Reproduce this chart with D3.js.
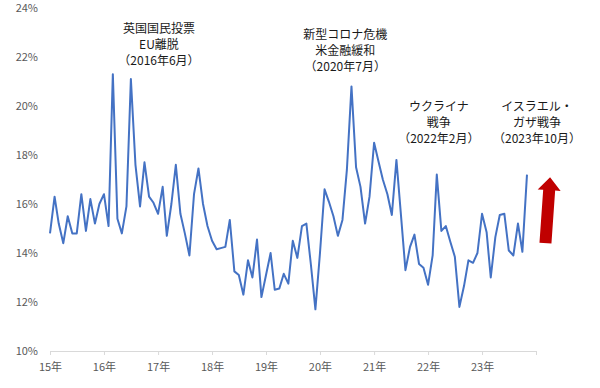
<!DOCTYPE html>
<html>
<head>
<meta charset="utf-8">
<script src="https://cdn.jsdelivr.net/npm/d3@7"></script>
<style>
  body { margin: 0; background: #fff; }
  svg { display: block; }
  text { font-family: "Noto Sans CJK JP", "Noto Sans", sans-serif; }
</style>
</head>
<body>
<svg id="chart" width="600" height="388"></svg>
<script>
// monthly values (%), Jan 2015 .. Nov 2023
const values = [
    14.8, 16.3, 15.2, 14.4, 15.5, 14.8, 14.8, 16.4, 14.9, 16.2, 15.2, 16.0,
    16.4, 15.1, 21.3, 15.4, 14.8, 15.9, 21.1, 17.6, 15.9, 17.7, 16.3, 16.05,
    15.6, 16.7, 14.7, 16.0, 17.6, 15.6, 14.8, 13.9, 16.4, 17.45, 16.0, 15.1,
    14.5, 14.15, 14.2, 14.25, 15.35, 13.25, 13.1, 12.3, 13.7, 13.0, 14.55, 12.2,
    13.1, 14.0, 12.5, 12.55, 13.15, 12.75, 14.5, 13.8, 15.1, 15.2, 13.5, 11.7,
    14.0, 16.6, 16.1, 15.5, 14.7, 15.35, 17.4, 20.8, 17.5, 16.7, 15.2, 16.3,
    18.5, 17.7, 17.0, 16.4, 15.55, 17.8, 15.6, 13.3, 14.25, 14.75, 13.55, 13.4,
    12.7, 13.9, 17.2, 14.9, 15.1, 14.45, 13.85, 11.8, 12.65, 13.7, 13.6, 14.0,
    15.6, 14.85, 13.0, 14.65, 15.55, 15.6, 14.1, 13.9, 15.2, 14.05, 17.2
];
const startYear = 2015;
const endYear = 2024;

// y axis ticks (%)
const yTicks = [10, 12, 14, 16, 18, 20, 22, 24];

// event notes: label lines, month index and value of the first line
const notes = [
    { lines: ["英国国民投票", "EU離脱", "（2016年6月）"], month: 24.2, value: 23.15 },
    { lines: ["新型コロナ危機", "米金融緩和", "（2020年7月）"], month: 65.6, value: 22.9 },
    { lines: ["ウクライナ", "戦争", "（2022年2月）"], month: 86.4, value: 19.95 },
    { lines: ["イスラエル・", "ガザ戦争", "（2023年10月）"], month: 108.2, value: 19.95 }
];

// red arrow: month index and value range
const arrow = { month: 110.1, from: 14.4, to: 17.1 };

const lineColor = "#4472C4";
const arrowColor = "#C00000";
const labelColor = "#595959";

const svg = d3.select("#chart");

const data = values.map(function (v, i) {
    return { date: new Date(startYear, i, 1), value: v };
});

const x = d3.scaleTime()
    .domain([new Date(startYear, 0, 1), new Date(endYear, 0, 1)])
    .range([50, 536]);

const y = d3.scaleLinear()
    .domain([10, 24])
    .range([351, 8]);

function monthDate(m) {
    return new Date(startYear, 0, 1 + Math.round(m * 30.44));
}

// x axis
const xAxis = d3.axisBottom(x)
    .ticks(d3.timeYear.every(1))
    .tickFormat(function (d) {
        return d.getFullYear() < endYear ? d3.timeFormat("%y年")(d) : "";
    })
    .tickSizeInner(4)
    .tickSizeOuter(0)
    .tickPadding(8);

const gx = svg.append("g")
    .attr("transform", "translate(0," + y(10) + ")")
    .call(xAxis);
gx.select(".domain").attr("stroke", "#d9d9d9").attr("stroke-width", 1.2);
gx.selectAll(".tick line").attr("stroke", "#d9d9d9");
gx.selectAll(".tick text")
    .attr("fill", labelColor)
    .style("font-size", "11px");

// y labels (no gridlines)
svg.append("g")
    .selectAll("text")
    .data(yTicks)
    .enter().append("text")
    .attr("x", 38)
    .attr("y", function (d) { return y(d); })
    .attr("dy", "0.35em")
    .attr("text-anchor", "end")
    .attr("fill", labelColor)
    .style("font-size", "11px")
    .text(function (d) { return d + "%"; });

// the series
const line = d3.line()
    .x(function (d) { return x(d.date); })
    .y(function (d) { return y(d.value); });

svg.append("path")
    .datum(data)
    .attr("d", line)
    .attr("fill", "none")
    .attr("stroke", lineColor)
    .attr("stroke-width", 2)
    .attr("stroke-linejoin", "round");

// event notes, one text per line
notes.forEach(function (n) {
    n.lines.forEach(function (s, i) {
        svg.append("text")
            .attr("x", x(monthDate(n.month)))
            .attr("y", y(n.value) + i * 16)
            .attr("dy", "0.35em")
            .attr("text-anchor", "middle")
            .attr("fill", "#1a1a1a")
            .style("font-size", "12px")
            .text(s);
    });
});

// red arrow, slightly tilted
const ax = x(monthDate(arrow.month));
const yBottom = y(arrow.from);
const yTip = y(arrow.to);
const len = yBottom - yTip;
const head = 13, shaftW = 6, headW = 11.5;
const arrowPts = [
    [-shaftW, 0], [-shaftW, -(len - head)], [-headW, -(len - head)],
    [0, -len], [headW, -(len - head)], [shaftW, -(len - head)], [shaftW, 0]
];
svg.append("path")
    .attr("d", d3.line()(arrowPts) + "Z")
    .attr("transform", "translate(" + ax + "," + yBottom + ") rotate(4)")
    .attr("fill", arrowColor);
</script>
</body>
</html>
